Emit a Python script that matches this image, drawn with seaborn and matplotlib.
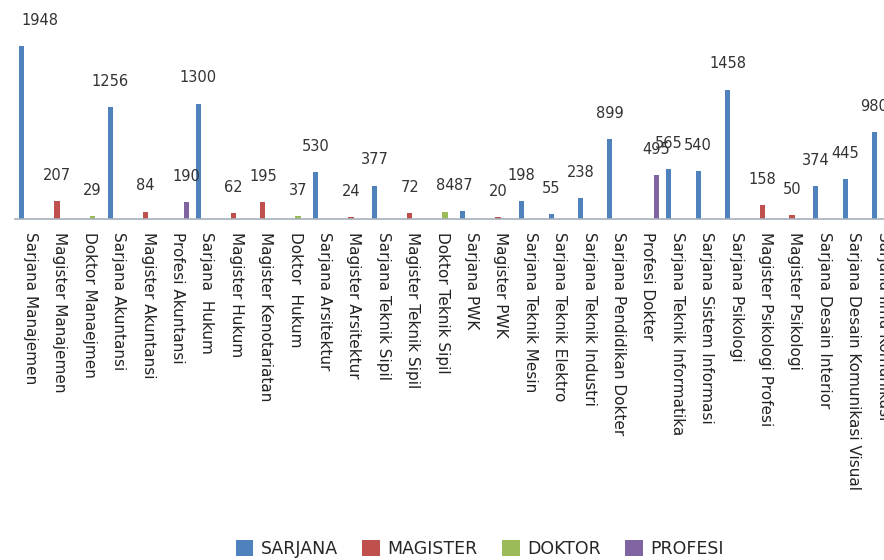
import numpy as np
import pandas as pd
import matplotlib
matplotlib.use('Agg')
import matplotlib.pyplot as plt
import seaborn as sns

# data
prodi = ['Sarjana Manajemen', 'Magister Manajemen', 'Doktor Manaejmen',
         'Sarjana Akuntansi', 'Magister Akuntansi', 'Profesi Akuntansi',
         'Sarjana  Hukum', 'Magister Hukum', 'Magister Kenotariatan',
         'Doktor  Hukum', 'Sarjana Arsitektur', 'Magister Arsitektur',
         'Sarjana Teknik Sipil', 'Magister Teknik Sipil', 'Doktor Teknik Sipil',
         'Sarjana PWK', 'Magister PWK', 'Sarjana Teknik Mesin',
         'Sarjana Teknik Elektro', 'Sarjana Teknik Industri',
         'Sarjana Pendidikan Dokter', 'Profesi Dokter',
         'Sarjana Teknik Informatika', 'Sarjana Sistem Informasi',
         'Sarjana Psikologi', 'Magister Psikologi Profesi', 'Magister Psikologi',
         'Sarjana Desain Interior', 'Sarjana Desain Komunikasi Visual',
         'Sarjana Ilmu Komunikasi']
jenjang = ['SARJANA', 'MAGISTER', 'DOKTOR',
           'SARJANA', 'MAGISTER', 'PROFESI',
           'SARJANA', 'MAGISTER', 'MAGISTER',
           'DOKTOR', 'SARJANA', 'MAGISTER',
           'SARJANA', 'MAGISTER', 'DOKTOR',
           'SARJANA', 'MAGISTER', 'SARJANA',
           'SARJANA', 'SARJANA',
           'SARJANA', 'PROFESI',
           'SARJANA', 'SARJANA',
           'SARJANA', 'MAGISTER', 'MAGISTER',
           'SARJANA', 'SARJANA',
           'SARJANA']
jumlah = [1948, 207, 29, 1256, 84, 190, 1300, 62, 195, 37, 530, 24, 377, 72,
          84, 87, 20, 198, 55, 238, 899, 495, 565, 540, 1458, 158, 50, 374,
          445, 980]

levels = ['SARJANA', 'MAGISTER', 'DOKTOR', 'PROFESI']
warna = ['#4F81BD', '#C0504D', '#9BBB59', '#8064A2']

df = pd.DataFrame({'prodi': prodi, 'jenjang': jenjang, 'jumlah': jumlah})

sns.set_style('white')
plt.rcParams['font.family'] = ['DejaVu Sans']

fig = plt.figure(figsize=(8.84, 5.6), dpi=100)
ax = fig.add_axes([15/884, 341/560, 869/884, 219/560])

sns.barplot(data=df, x='prodi', y='jumlah', hue='jenjang', order=prodi,
            hue_order=levels, palette=warna, width=0.78, gap=0.1,
            dodge=True, saturation=1, errorbar=None, linewidth=0, ax=ax)

# value labels above the bars
for c in ax.containers:
    ax.bar_label(c, padding=13, fontsize=10.5, color='#333333',
                 annotation_clip=False)
for lab in ax.texts:
    if lab.get_text() == '1948':
        lab.xyann = (13, 13)

ax.set_xlim(-0.527, 29.03)
ax.set_ylim(0, 2466)
ax.set_xlabel('')
ax.set_ylabel('')
ax.set_yticks([])
ax.tick_params(axis='x', length=0, pad=9)
plt.setp(ax.get_xticklabels(), rotation=270, fontsize=11, color='#222222',
         ha='center', va='top')
for s in ['left', 'right', 'top']:
    ax.spines[s].set_visible(False)
ax.spines['bottom'].set_color('#a6b0ba')
ax.spines['bottom'].set_linewidth(1.2)

handles, labels = ax.get_legend_handles_labels()
ax.legend(handles, labels, loc='center', bbox_to_anchor=(480/884, 11/560),
          bbox_transform=fig.transFigure, ncol=4, frameon=False,
          fontsize=12.5, handlelength=1.0, handleheight=1.0,
          handletextpad=0.45, columnspacing=1.4)

fig.savefig('out.png', dpi=100)
